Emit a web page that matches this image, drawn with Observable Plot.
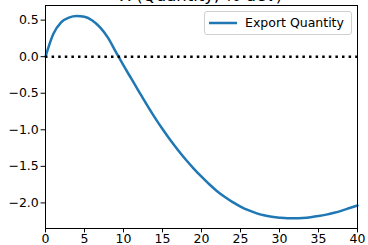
<!DOCTYPE html>
<html>
<head>
<meta charset="utf-8">
<script src="https://cdn.jsdelivr.net/npm/d3@7"></script>
<script src="https://cdn.jsdelivr.net/npm/@observablehq/plot@0.6"></script>
<style>
  html, body { margin: 0; padding: 0; background: white; }
  #wrap { position: relative; width: 368px; height: 245px; overflow: hidden; font-family: "DejaVu Sans", sans-serif; }
  #title { position: absolute; left: 45px; width: 312px; top: -12.5px; text-align: center; font-size: 16.5px; line-height: 1; color: black; white-space: nowrap; }
  #legend { position: absolute; left: 204px; top: 11px; width: 146px; height: 22px; border: 1px solid #d0d0d0; border-radius: 3px; background: rgba(255,255,255,0.8); }
  #legend svg { position: absolute; left: 3px; top: 9px; }
  #legend span { position: absolute; left: 40px; top: 3px; font-size: 12.5px; line-height: 1.2; color: black; white-space: nowrap; }
  #chart svg { display: block; }
</style>
</head>
<body>
<div id="wrap">
  <div id="chart"></div>
  <div id="title">X (Quantity, % dev)</div>
  <div id="legend"><svg width="30" height="4"><line x1="1" x2="29" y1="2" y2="2" stroke="#1f77b4" stroke-width="2.5"/></svg><span>Export Quantity</span></div>
</div>
<script>
const periods = [0,1,2,3,4,5,6,7,8,9,10,11,12,13,14,15,16,17,18,19,20,21,22,23,24,25,26,27,28,29,30,31,32,33,34,35,36,37,38,39,40];
const exportQuantity = [0,0.31,0.47,0.535,0.555,0.545,0.495,0.40,0.26,0.07,-0.12,-0.30,-0.48,-0.66,-0.83,-0.99,-1.14,-1.28,-1.41,-1.53,-1.64,-1.745,-1.84,-1.92,-1.99,-2.05,-2.10,-2.14,-2.17,-2.19,-2.203,-2.21,-2.21,-2.205,-2.195,-2.18,-2.16,-2.135,-2.105,-2.07,-2.035];
const xTicks = [0,5,10,15,20,25,30,35,40];
const yTicks = [-2.0,-1.5,-1.0,-0.5,0.0,0.5];
const seriesName = "Export Quantity";

const data = periods.map((p, i) => ({period: p, value: exportQuantity[i], series: seriesName}));

const chart = Plot.plot({
  width: 368,
  height: 245,
  marginLeft: 45,
  marginRight: 11,
  marginTop: 5,
  marginBottom: 17,
  style: {fontFamily: "DejaVu Sans", fontSize: "12.5px", color: "black", background: "white"},
  x: {domain: [0, 40]},
  y: {domain: [-2.35, 0.7]},
  marks: [
    Plot.line(data, {x: "period", y: "value", stroke: "#1f77b4", strokeWidth: 2.5, curve: "monotone-x"}),
    Plot.ruleY([0], {stroke: "black", strokeWidth: 2.5, strokeDasharray: "2.5,4.1"}),
    Plot.frame({stroke: "black", strokeWidth: 1}),
    Plot.axisX({ticks: xTicks, tickSize: 4.4, tickPadding: 1.7, label: null, tickFormat: d3.format("d")}),
    Plot.axisY({ticks: yTicks, tickSize: 4.4, tickPadding: 2.3, label: null, tickFormat: d3.format(".1f")})
  ]
});
document.getElementById("chart").appendChild(chart);
</script>
</body>
</html>
